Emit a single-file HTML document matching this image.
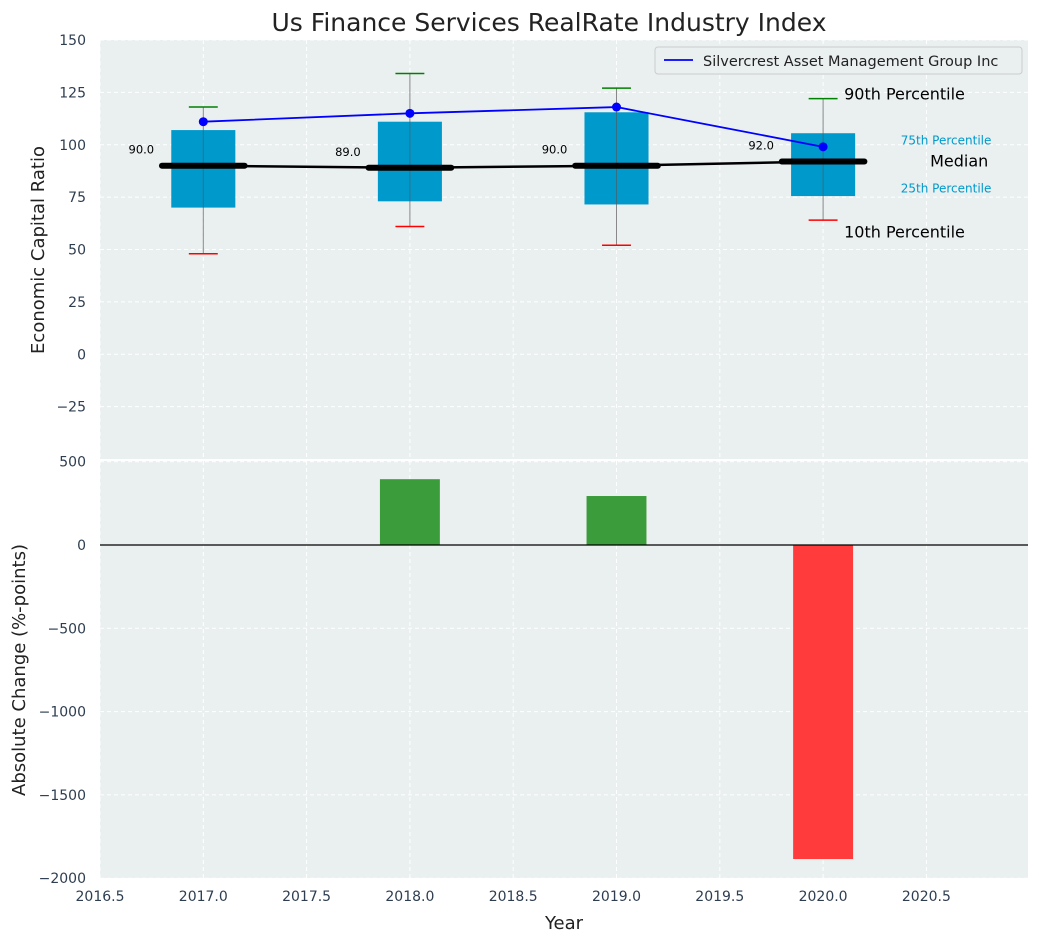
<!DOCTYPE html>
<html><head><meta charset="utf-8"><style>
body{margin:0;background:#fff;font-family:"DejaVu Sans","Liberation Sans",sans-serif;}
</style></head><body>
<svg id="chart" width="1039" height="942" xmlns="http://www.w3.org/2000/svg" font-family="DejaVu Sans, Liberation Sans, sans-serif">
<rect width="1039" height="942" fill="#fff"/>
<text x="549" y="31" font-size="25" text-anchor="middle" fill="#222">Us Finance Services RealRate Industry Index</text>
<g id="gtop"></g><g id="gbot"></g>
<text transform="translate(44,250) rotate(-90)" font-size="18" text-anchor="middle" fill="#222">Economic Capital Ratio</text>
<text transform="translate(25,670) rotate(-90)" font-size="18" text-anchor="middle" fill="#222">Absolute Change (%-points)</text>
<text x="564" y="929" font-size="18" text-anchor="middle" fill="#222">Year</text>
</svg>
<script>
const years=[2017,2018,2019,2020];
const p10=[48,61,52,64];
const q1=[70,73,71.5,75.5];
const medians=[90,89,90,92];
const q3=[107,111,115.5,105.5];
const p90=[118,134,127,122];
const company=[111,115,118,99];
const changes=[0,395,294,-1885];
const xTicks=[2016.5,2017,2017.5,2018,2018.5,2019,2019.5,2020,2020.5];
const yTicksTop=[150,125,100,75,50,25,0,-25];
const yTicksBot=[500,0,-500,-1000,-1500,-2000];
const NS="http://www.w3.org/2000/svg";
const L=100,R=1028;
const X=v=>L+(v-2016.5)*206.6;
const YT=v=>40+(150-v)*(459-40)/200;
const YB=v=>545-v*(83.3/500);
function mk(p,t,a){const e=document.createElementNS(NS,t);for(const k in a)e.setAttribute(k,a[k]);p.appendChild(e);return e;}
const gTop=document.getElementById('gtop'),gBot=document.getElementById('gbot');
let bg=mk(gTop,'rect',{x:L,y:40,width:R-L,height:419,fill:'#eaeff0'});

let bg2=mk(gBot,'rect',{x:L,y:461,width:R-L,height:417,fill:'#eaeff0'});

xTicks.forEach(t=>{
 let g=mk(gTop,'line',{x1:X(t),x2:X(t),y1:40,y2:459,stroke:'#fff','stroke-dasharray':'4,3'});
 
 let g2=mk(gBot,'line',{x1:X(t),x2:X(t),y1:461,y2:878,stroke:'#fff','stroke-dasharray':'4,3'});
 
 let tx=mk(gBot,'text',{x:X(t),y:901,'font-size':14,'text-anchor':'middle',fill:'#2e3e50'});tx.textContent=t.toFixed(1);
 
});
yTicksTop.forEach(t=>{
 let g=mk(gTop,'line',{x1:L,x2:R,y1:YT(t),y2:YT(t),stroke:'#fff','stroke-dasharray':'4,3'});
 
 let tx=mk(gTop,'text',{x:86,y:YT(t)+5,'font-size':14,'text-anchor':'end',fill:'#2e3e50'});tx.textContent=t<0?'\u2212'+(-t):t;
 
});
yTicksBot.forEach(t=>{
 let g=mk(gBot,'line',{x1:L,x2:R,y1:YB(t),y2:YB(t),stroke:'#fff','stroke-dasharray':'4,3'});
 
 let tx=mk(gBot,'text',{x:86,y:YB(t)+5,'font-size':14,'text-anchor':'end',fill:'#2e3e50'});tx.textContent=t<0?'\u2212'+(-t):t;
 
});
mk(gTop,'line',{x1:L,x2:R,y1:460,y2:460,stroke:'#fff','stroke-width':2});
years.forEach((y,i)=>{
 let w=mk(gTop,'line',{x1:X(y),x2:X(y),y1:YT(p10[i]),y2:YT(p90[i]),stroke:'#888','stroke-width':1});
 
 let b=mk(gTop,'rect',{x:X(y-0.155),y:YT(q3[i]),width:X(y+0.155)-X(y-0.155),height:YT(q1[i])-YT(q3[i]),fill:'#0099cc'});
 
 let w2=mk(gTop,'line',{x1:X(y),x2:X(y),y1:YT(q3[i]),y2:YT(q1[i]),stroke:'#555','stroke-width':1,opacity:0.6});
 
 let c1=mk(gTop,'line',{x1:X(y-0.07),x2:X(y+0.07),y1:YT(p90[i]),y2:YT(p90[i]),stroke:'green','stroke-width':1.5});
 
 let c2=mk(gTop,'line',{x1:X(y-0.07),x2:X(y+0.07),y1:YT(p10[i]),y2:YT(p10[i]),stroke:'red','stroke-width':1.5});
 
 let m=mk(gTop,'line',{x1:X(y-0.2),x2:X(y+0.2),y1:YT(medians[i]),y2:YT(medians[i]),stroke:'#000','stroke-width':6,'stroke-linecap':'round'});
 
 let t=mk(gTop,'text',{x:X(y-0.3),y:YT(medians[i])-12,'font-size':11.5,'text-anchor':'middle',fill:'#000'});t.textContent=medians[i].toFixed(1);
 
});
let mp=mk(gTop,'polyline',{points:years.map((y,i)=>X(y)+','+YT(medians[i])).join(' '),fill:'none',stroke:'#000','stroke-width':2.5});

let cp=mk(gTop,'polyline',{points:years.map((y,i)=>X(y)+','+YT(company[i])).join(' '),fill:'none',stroke:'blue','stroke-width':1.8});

years.forEach((y,i)=>{let c=mk(gTop,'circle',{cx:X(y),cy:YT(company[i]),r:4.5,fill:'blue'});
 });
const li=years.length-1,lx=X(years[li]);
[['90th Percentile',p90[li]+2,16,'#000',lx+21,'start'],['10th Percentile',p10[li]-6,16,'#000',lx+21,'start'],
 ['75th Percentile',q3[li]-3,12,'#0099cc',lx+123,'middle'],['25th Percentile',q1[li]+4,12,'#0099cc',lx+123,'middle'],
 ['Median',medians[li],16,'#000',lx+107,'start']].forEach(a=>{
 let t=mk(gTop,'text',{x:a[4],y:YT(a[1])+5,'font-size':a[2],fill:a[3],'text-anchor':a[5]});t.textContent=a[0];
 
});
let lg=mk(gTop,'rect',{x:655,y:47,width:367,height:27,fill:'#eaeff0',stroke:'#ccc',rx:3});

mk(gTop,'line',{x1:664,x2:693,y1:60,y2:60,stroke:'blue','stroke-width':1.8});
let lt=mk(gTop,'text',{x:703,y:66,'font-size':14.5,fill:'#222'});lt.textContent='Silvercrest Asset Management Group Inc';

years.forEach((y,i)=>{
 const v=changes[i];if(!v)return;
 let b=mk(gBot,'rect',{x:X(y-0.145),y:Math.min(YB(0),YB(v)),width:X(y+0.145)-X(y-0.145),height:Math.abs(YB(v)-YB(0)),fill:v>0?'#3a9c3a':'#ff3b3b'});
 
});
let z=mk(gBot,'line',{x1:L,x2:R,y1:YB(0),y2:YB(0),stroke:'#000','stroke-width':1.2});

</script>
</body></html>
